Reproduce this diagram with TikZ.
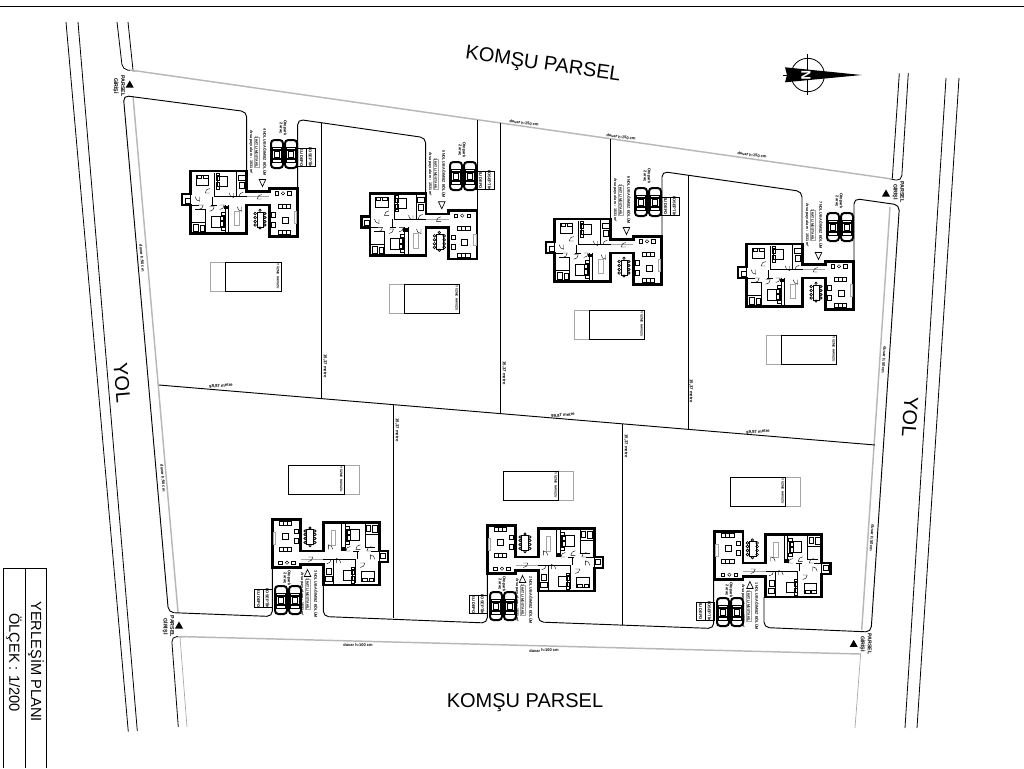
\documentclass[tikz,border=0pt]{standalone}
\usepackage{fontspec}
\setmainfont{Liberation Sans}
\newcommand{\ufak}[1]{\fontsize{#1}{#1}\selectfont\bfseries}
\tikzset{
	sinir/.style={line width=.7pt,black},
	yolcizgi/.style={line width=.6pt,black},
	gri/.style={line width=1.1pt,white!72!black},
	griince/.style={line width=.5pt,white!65!black},
	duvar/.style={line width=2pt,black,line join=miter},
	ara/.style={line width=.7pt,black},
	ince/.style={line width=.3pt,black},
	yazi/.style={inner sep=0pt,align=center},
	pics/ev/.style={code={
		\draw[duvar] (0,0) -- (56,0) -- (56,20.7) -- (78.7,20.7) -- (78.7,17.3) -- (107,17.3) -- (107,65.7) -- (78.7,65.7) -- (78.7,34) -- (56,34) -- (56,62.3) -- (0,62.3) -- (0,34) -- (-8.7,34) -- (-8.7,23) -- (0,23) -- cycle;
		% odalar
		\draw[ara] (24,2) -- (24,25.7) -- (56,25.7);
		\draw[ara] (46,0) -- (46,25.7);
		\draw[ara] (0,34) -- (8,34);
		\draw[ara] (20,34) -- (26,34);
		\draw[ara] (34.3,34) -- (34.3,62.3);
		\draw[ince] (37.7,34) -- (37.7,62.3);
		\draw[ince] (0,50.7) -- (14.3,50.7) -- (14.3,38) -- (4,38);
		\draw[ara] (14.3,50.7) -- (14.3,62.3);
		\draw[griince] (56,25.7) -- (78.7,25.7);
		\draw[ara] (0,23) -- (0,34);
		\draw[ara] (22,25.7) -- (22,34);
		\fill (33,34.5) rectangle (37.5,38.2);
		% yataklar
		\draw[ince] (5.3,4) rectangle (17.7,14);
		\draw[ince] (6,4) rectangle (10.5,7);
		\draw[ince] (12,4) rectangle (17,7);
		\draw[ince] (26.7,5) rectangle (36,15);
		\draw[ince] (25,5) rectangle (28,9);
		\draw[ince] (25,11) rectangle (28,15);
		\draw[ince] (25,2) rectangle (28,4.5);
		\draw[ince] (25,15.5) rectangle (28,18);
		\draw[ince] (20.3,44.7) rectangle (32,55.7);
		\draw[ince] (29,45) rectangle (33,49.5);
		\draw[ince] (29,50.5) rectangle (33,55);
		\draw[ince] (30,41) rectangle (34,44);
		\draw[ince] (30,56) rectangle (34,59);
		% islak hacimler
		\draw[ince] (47.5,4) rectangle (54,9);
		\draw[ince] (48,11) rectangle (53,17);
		\draw[ince] (2,53) rectangle (7,60);
		\draw[ince] (9,54) rectangle (13,60);
		\draw[ince] (-6,27) rectangle (-1,32);
		\draw[griince] (43.7,40) rectangle (48.3,54.7);
		% kapilar
		\foreach \kx/\ky/\ka in {9/25.7/90,19/22/180,43/22/90,52.7/25.7/180,19/35.7/0,29/34/0,51/35.7/90,71/28/180,8/34/0}
			\draw[ince] (\kx,\ky) -- ++(\ka:4.5) arc[start angle=\ka,delta angle=90,radius=4.5];
		% yemek masasi
		\draw[ince] (66,40.7) rectangle (72.7,55.7);
		\foreach \my in {42.5,46.5,50.5,54}
		{
			\draw[line width=.5pt] (64.5,\my) circle (1.3);
			\draw[line width=.5pt] (74.2,\my) circle (1.3);
		}
		\draw[line width=.5pt] (69.3,39.3) circle (1.2);
		\draw[line width=.5pt] (69.3,57) circle (1.2);
		% salon
		\foreach \sy in {33.3,59.7}
		{
			\draw[ara] (87.7,\sy) rectangle (100,\sy+4);
			\draw[ara] (91.8,\sy) -- (91.8,\sy+4);
			\draw[ara] (95.9,\sy) -- (95.9,\sy+4);
		}
		\draw[ara] (81,41.7) rectangle (85,46.3);
		\draw[ara] (81,51.3) rectangle (85,56);
		\draw[ince] (91,45.7) rectangle (97,51.7);
		\draw[griince] (103.7,40.7) rectangle (106,52.3);
		\draw[ara] (84.3,20.7) rectangle (87.7,24);
		\draw[ara] (97,20.7) rectangle (100.4,24);
		\draw[ince] (92.3,22.3) circle (1.7);
		% giris ucgeni
		\draw[line width=.5pt] (68.5,8.5) -- (75,8.5) -- (71.8,15.5) -- cycle;
	}},
	pics/araba/.style={code={
		\foreach \ax in {0,14}
		{
			\draw[line width=1.5pt,rounded corners=2.5pt] (\ax-6,-14) rectangle (\ax+6,14);
			\draw[ince] (\ax-4.5,-7) rectangle (\ax+4.5,8);
			\draw[line width=1pt] (\ax-6,-4) -- (\ax+6,-4);
			\draw[line width=1pt] (\ax-6,5) -- (\ax+6,5);
			\draw[line width=.5pt] (\ax-2.5,-2.5) rectangle (\ax+2.5,3.5);
		}
	}},
	pics/depo/.style={code={
		\draw[line width=.6pt] (-9,-9) rectangle (9,9);
		\draw[line width=.6pt] (0,-9) -- (0,9);
		\node[yazi,rotate=-90,font=\ufak{3}] (-a) at (-4.5,0) {SU DEPO};
		\node[yazi,rotate=-90,font=\ufak{3}] (-b) at (4.5,0) {FOSEPTİK};
	}},
	pics/bilgi/.style={code={
		\node[yazi,rotate=-90,font=\ufak{2.8}] (-no) at (7,0) {#1 NOLU BAĞIMSIZ BÖLÜM};
		\draw[griince] (-3.5,-15) rectangle (1,15);
		\node[yazi,rotate=-90,font=\ufak{2.6}] (-kat) at (-1.2,0) {1 KATLI MÜSTAKİL};
		\node[yazi,rotate=-90,font=\ufak{2.8}] (-arsa) at (-7,0) {Arsa payı alanı : 1531 m²};
	}},
	pics/havuz/.style={code={
		\draw[griince] (#1*27.7,-14.5) rectangle (#1*42.7,14.5);
		\draw[line width=.7pt] (-27.7,-14.5) rectangle (27.7,14.5);
		\node[yazi,rotate=-90,font=\ufak{2.4}] (-ad) at (25,0) {YÜZME HAVUZU};
	}},
	pics/giris/.style={code={
		\fill (-4,3.5) -- (0,-3.5) -- (4,3.5) -- cycle;
	}},
	gecit/.style={yazi,rotate=-90,font=\ufak{4}},
	otoyazi/.style={yazi,rotate=-90,font=\ufak{3}}
}
\begin{document}
\begin{tikzpicture}[x=.75pt,y=-.75pt]
	\useasboundingbox (0,0) rectangle (1024,768);
	% ust cizgi ve antet
	\draw[line width=.5pt] (0,6) -- (1024,6);
	\draw[line width=.5pt] (46.7,768) -- (46.7,568.3) -- (3.3,568.3) -- (3.3,768);
	\draw[line width=.5pt] (25,568.3) -- (25,768);
	\node[yazi,rotate=-90,font=\fontsize{11}{11}\selectfont] (plan) at (36,661.7) {YERLEŞİM PLANI};
	\node[yazi,rotate=-90,font=\fontsize{11}{11}\selectfont] (olcek) at (14,662.5) {ÖLÇEK : 1/200};
	% yollar
	\draw[yolcizgi] (66,22) -- (128.3,731.7);
	\draw[yolcizgi] (78,22) -- (137.3,731);
	\draw[yolcizgi] (946,78) -- (905,728);
	\draw[yolcizgi] (959,78) -- (917,728);
	\draw[yolcizgi,rounded corners=4pt] (117,22) -- (122.5,69.5) -- (135,71);
	\draw[yolcizgi] (128,22) -- (133,70);
	\draw[yolcizgi] (899.3,73.3) -- (892.3,178.5);
	\draw[yolcizgi,rounded corners=4pt] (908.3,73) -- (901.5,181) -- (890,179);
	\draw[yolcizgi,rounded corners=4pt] (178.3,727) -- (171.5,636.5) -- (185,636.8);
	\draw[griince] (187,727) -- (180,637);
	\draw[griince] (860.7,653) -- (855,728);
	% parsel sinirlari
	\draw[gri] (130,70) -- (892,179);
	\draw[gri] (133,96) -- (178,612);
	\draw[gri] (178,636.5) -- (860,654);
	\draw[gri] (890,207) -- (861.7,630);
	\draw[sinir] (159,385) -- (875,445);
	\draw[sinir,rounded corners=4pt] (246.7,171) -- (246.7,111.7) -- (123.3,95.5) -- (168.5,612.5) -- (272.3,616.5) -- (272.3,568);
	\draw[sinir,rounded corners=4pt] (297.7,188) -- (297.7,119.3) -- (425.7,137.8) -- (425.7,193.3);
	\draw[sinir] (477.3,210) -- (477.3,120);
	\draw[sinir] (610.7,219) -- (610.7,139);
	\draw[sinir,rounded corners=4pt] (662,236) -- (662,171.5) -- (802,191.5) -- (802,244);
	\draw[sinir,rounded corners=4pt] (854,261) -- (854,198.5) -- (899.5,205) -- (871,632) -- (764,627.5) -- (764,597);
	\draw[sinir,rounded corners=4pt] (323.3,585) -- (323.3,616.5) -- (487.3,623) -- (487.3,574);
	\draw[sinir,rounded corners=4pt] (538.3,591) -- (538.3,622) -- (713.7,628.5) -- (713.7,580);
	\draw[sinir] (321.3,123) -- (321.3,398);
	\draw[sinir] (500.3,123) -- (500.3,412.7);
	\draw[sinir] (688,175) -- (688,429);
	\draw[sinir] (393.3,405) -- (393.3,618);
	\draw[sinir] (622.7,424) -- (622.7,625);
	% yazilar
	\node[yazi,rotate=-8,font=\fontsize{15}{15}\selectfont] (komsuust) at (543,65) {KOMŞU PARSEL};
	\node[yazi,font=\fontsize{15}{15}\selectfont] (komsualt) at (525,703) {KOMŞU PARSEL};
	\node[yazi,rotate=-85,font=\fontsize{15}{15}\selectfont] (yolsol) at (122,383) {YOL};
	\node[yazi,rotate=-94,font=\fontsize{15}{15}\selectfont] (yolsag) at (910,417) {YOL};
	% kuzey
	\draw[line width=.6pt] (807.7,75) circle (16.7);
	\draw[line width=.6pt] (807.7,54) -- (807.7,95);
	\draw[line width=.6pt] (783,75) -- (800,75);
	\fill (785,67.3) -- (861.7,75) -- (785,82.3) -- (787,75) -- cycle;
	\node[yazi,rotate=-90,text=white,font=\fontsize{10}{10}\selectfont\bfseries] (kuzey) at (806,75) {N};
	% parsel girisleri
	\pic (g1) at (129.7,84) {giris};
	\node[gecit] (g1yazi) at (119,86) {PARSEL\\[1.2pt]GİRİŞİ};
	\pic (g2) at (179,625) {giris};
	\node[gecit] (g2yazi) at (168.3,626.5) {PARSEL\\[1.2pt]GİRİŞİ};
	\pic (g3) at (886,193) {giris};
	\node[gecit] (g3yazi) at (898.3,192) {PARSEL\\[1.2pt]GİRİŞİ};
	\pic (g4) at (853.7,643.3) {giris};
	\node[gecit] (g4yazi) at (865.6,644) {PARSEL\\[1.2pt]GİRİŞİ};
	% evler
	\pic (ev4) at (190.7,171) {ev};
	\pic (ev5) at (370,193.3) {ev};
	\pic (ev6) at (554.7,219) {ev};
	\pic (ev7) at (746.7,244) {ev};
	\pic[rotate=180] (ev3) at (379.3,585) {ev};
	\pic[rotate=180] (ev2) at (594.3,591) {ev};
	\pic[rotate=180] (ev1) at (821.7,597) {ev};
	% otoparklar
	\pic (ot4) at (277,154) {araba};
	\pic (ot5) at (456,176) {araba};
	\pic (ot6) at (641,202) {araba};
	\pic (ot7) at (833,227) {araba};
	\pic (ot3) at (281,600) {araba};
	\pic (ot2) at (496,606) {araba};
	\pic (ot1) at (723,612) {araba};
	% depolar
	\pic (d4) at (306,157.5) {depo};
	\pic (d5) at (485,180) {depo};
	\pic (d6) at (670,206) {depo};
	\pic (d3) at (263,598.5) {depo};
	\pic (d2) at (478,604.5) {depo};
	\pic (d1) at (705,611) {depo};
	% bolum bilgileri
	\pic (b4) at (258,152) {bilgi=4};
	\pic (b5) at (437,174) {bilgi=5};
	\pic (b6) at (622,200) {bilgi=6};
	\pic (b7) at (814,225) {bilgi=7};
	\pic (b3) at (309,594) {bilgi=3};
	\pic (b2) at (524,600) {bilgi=2};
	\pic (b1) at (750,606) {bilgi=1};
	% otopark yazilari
	\node[otoyazi] (o4) at (283,128) {Otopark\\2 araç};
	\node[otoyazi] (o5) at (462,150) {Otopark\\2 araç};
	\node[otoyazi] (o6) at (647,176) {Otopark\\2 araç};
	\node[otoyazi] (o7) at (839,201) {Otopark\\2 araç};
	\node[otoyazi] (o3) at (287,578) {Otopark\\2 araç};
	\node[otoyazi] (o2) at (502,584) {Otopark\\2 araç};
	\node[otoyazi] (o1) at (729,590) {Otopark\\2 araç};
	% havuzlar
	\pic (h4) at (253.3,276.5) {havuz=-1};
	\pic (h5) at (432,298.5) {havuz=-1};
	\pic (h6) at (617,324.5) {havuz=-1};
	\pic (h7) at (809,349.5) {havuz=-1};
	\pic (h3) at (316.5,479.5) {havuz=1};
	\pic (h2) at (531,485.5) {havuz=1};
	\pic (h1) at (758,491.5) {havuz=1};
	% duvar ve olcu yazilari
	\node[yazi,rotate=-8,font=\ufak{3}] (u1) at (524,123) {duvar h:150 cm};
	\node[yazi,rotate=-8,font=\ufak{3}] (u2) at (621,137) {duvar h:150 cm};
	\node[yazi,rotate=-8,font=\ufak{3}] (u3) at (752,155) {duvar h:150 cm};
	\node[yazi,rotate=-85,font=\ufak{3}] (u4) at (142,258) {duvar h:50 cm};
	\node[yazi,rotate=-85,font=\ufak{3}] (u5) at (163,478) {duvar h:50 cm};
	\node[yazi,rotate=-94,font=\ufak{3}] (u6) at (884,360) {duvar h:50 cm};
	\node[yazi,rotate=-94,font=\ufak{3}] (u7) at (872,538) {duvar h:50 cm};
	\node[yazi,rotate=1,font=\ufak{3}] (u8) at (358,645) {duvar h:100 cm};
	\node[yazi,rotate=1,font=\ufak{3}] (u9) at (544,650.5) {duvar h:100 cm};
	\node[yazi,rotate=-90,font=\ufak{3.2}] (m1) at (325,366) {15,37 metre};
	\node[yazi,rotate=-90,font=\ufak{3.2}] (m2) at (504,373) {15,37 metre};
	\node[yazi,rotate=-90,font=\ufak{3.2}] (m3) at (691,391) {15,37 metre};
	\node[yazi,rotate=-90,font=\ufak{3.2}] (m4) at (397,430) {15,37 metre};
	\node[yazi,rotate=-90,font=\ufak{3.2}] (m5) at (626,446) {15,37 metre};
	\node[yazi,rotate=5,font=\ufak{3.2}] (m6) at (221,386) {99,87 metre};
	\node[yazi,rotate=5,font=\ufak{3.2}] (m7) at (563,415.5) {99,87 metre};
	\node[yazi,rotate=5,font=\ufak{3.2}] (m8) at (758,432) {99,87 metre};
\end{tikzpicture}
\end{document}
